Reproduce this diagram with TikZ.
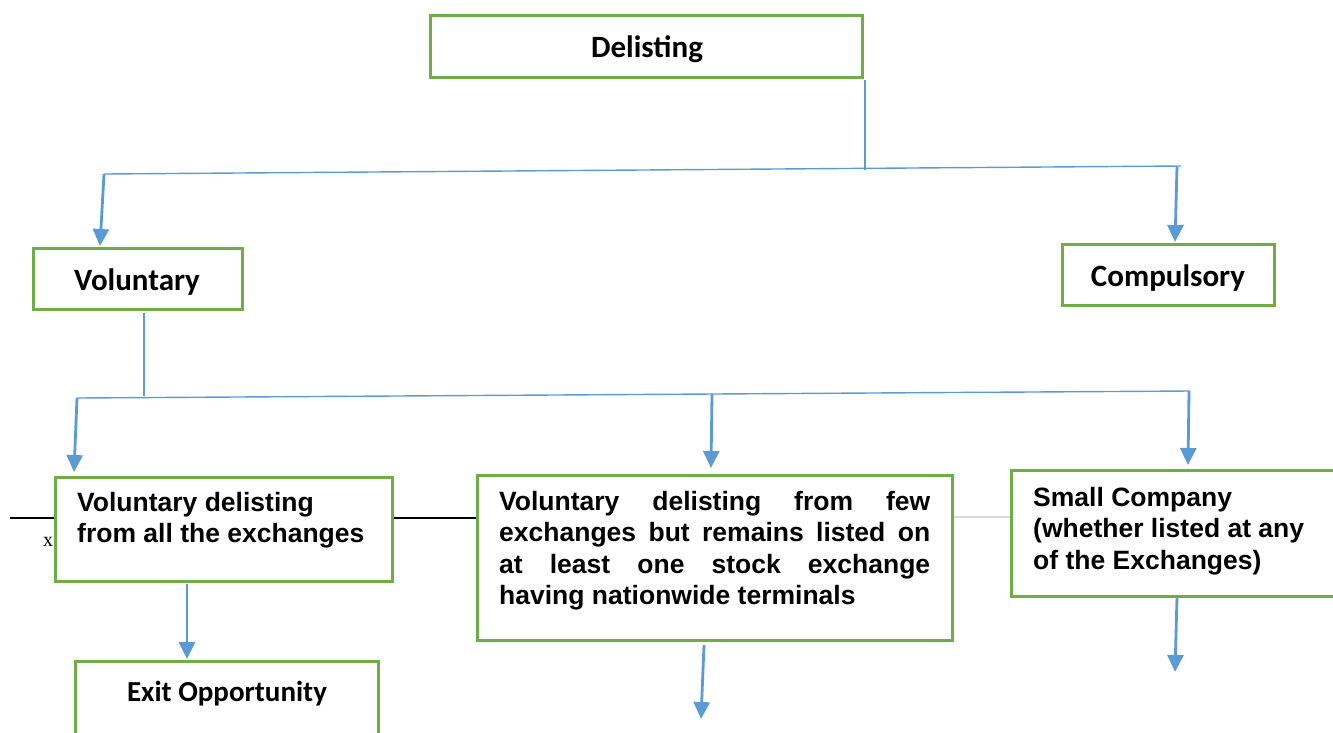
\documentclass[tikz,border=0pt]{standalone}
\usepackage{fontspec}
\setmainfont{Liberation Sans}
\newfontfamily\carlito{Carlito}
\newfontfamily\tnr{Liberation Serif}
\usetikzlibrary{arrows.meta}
\definecolor{boxgreen}{HTML}{70AD47}
\definecolor{lineblue}{HTML}{5B9BD5}
\tikzset{
  greenbox/.style={draw=boxgreen, line width=3pt, fill=white, rectangle, inner sep=0pt},
  thinblue/.style={draw=lineblue, line width=1.4pt},
  arrowblue/.style={draw=lineblue, line width=2.8pt, -{Triangle[width=16pt,length=17pt]}},
  titletext/.style={font=\carlito\bfseries\fontsize{31}{36}\selectfont, inner sep=0pt},
  bodytext/.style={font=\bfseries\fontsize{26.5}{31.5}\selectfont, inner sep=0pt, anchor=north west, align=left},
}
\begin{document}
\begin{tikzpicture}[x=1pt,y=-1pt]
\useasboundingbox (0,0) rectangle (1333,732);
\clip (0,0) rectangle (1333,732);
% background lines
\coordinate (bl1) at (10,518);
\coordinate (bl2) at (477,518);
\coordinate (gl1) at (952,517);
\coordinate (gl2) at (1011,517);
\draw[black, line width=1.3pt] (bl1) -- (bl2);
\draw[black!15, line width=1.2pt] (gl1) -- (gl2);
\node[font=\tnr\fontsize{20}{24}\selectfont, anchor=base west, inner sep=0pt] (xmark) at (43,546) {x};
% boxes
\node[greenbox, minimum width=432pt, minimum height=62pt] (del) at (646,46) {};
\node[greenbox, minimum width=209pt, minimum height=61pt] (vol) at (137.5,278.5) {};
\node[greenbox, minimum width=212pt, minimum height=61pt] (comp) at (1168,274.5) {};
\node[greenbox, minimum width=337pt, minimum height=104pt] (all) at (223.5,529) {};
\node[greenbox, minimum width=475pt, minimum height=165pt] (few) at (714.5,557.5) {};
\node[greenbox, minimum width=360pt, minimum height=126pt] (small) at (1191,533.5) {};
\node[greenbox, minimum width=303pt, minimum height=120pt] (exit) at (226.5,721) {};
% texts
\node[titletext] (delt) at (647,49) {Delisting};
\node[titletext] (volt) at (137,282) {Voluntary};
\node[titletext] (compt) at (1168,278) {Compulsory};
\node[titletext, font=\carlito\bfseries\fontsize{29}{34}\selectfont] (exitt) at (227,694) {Exit Opportunity};
\node[bodytext] (allt) at (77,492) {Voluntary delisting\\from all the exchanges};
\node[bodytext] (fewt) at (499,491) {\makebox[431pt][s]{Voluntary delisting from few}\\\makebox[431pt][s]{exchanges but remains listed on}\\\makebox[431pt][s]{at least one stock exchange}\\having nationwide terminals};
\node[bodytext] (smallt) at (1033,487) {Small Company\\(whether listed at any\\of the Exchanges)};
% first level connectors
\coordinate (d1) at (865,80);
\coordinate (d2) at (865,170);
\coordinate (hL) at (104,174);
\coordinate (hR) at (1181,166);
\coordinate (hRa) at (1177,166.5);
\draw[thinblue] (d1) -- (d2);
\draw[thinblue] (hL) -- (hR);
\draw[arrowblue] (hL) -- (100,246);
\draw[arrowblue] (hRa) -- (1175,242);
% second level connectors
\coordinate (v1) at (144,313);
\coordinate (v2) at (144,396);
\coordinate (gL) at (77,398);
\coordinate (gR) at (1190,391);
\coordinate (gM) at (712,394);
\coordinate (gRa) at (1189,391);
\draw[thinblue] (v1) -- (v2);
\draw[thinblue] (gL) -- (gR);
\draw[arrowblue] (gL) -- (74,472);
\draw[arrowblue] (gM) -- (711,468);
\draw[arrowblue] (gRa) -- (1188,465);
% third level
\coordinate (a1) at (187,584);
\coordinate (b1) at (704,645);
\coordinate (b2) at (701,719);
\coordinate (c1) at (1177,597);
\coordinate (c2) at (1175,672);
\draw[arrowblue] (a1) -- (187,659);
\draw[arrowblue] (b1) -- (b2);
\draw[arrowblue] (c1) -- (c2);
\end{tikzpicture}
\end{document}
